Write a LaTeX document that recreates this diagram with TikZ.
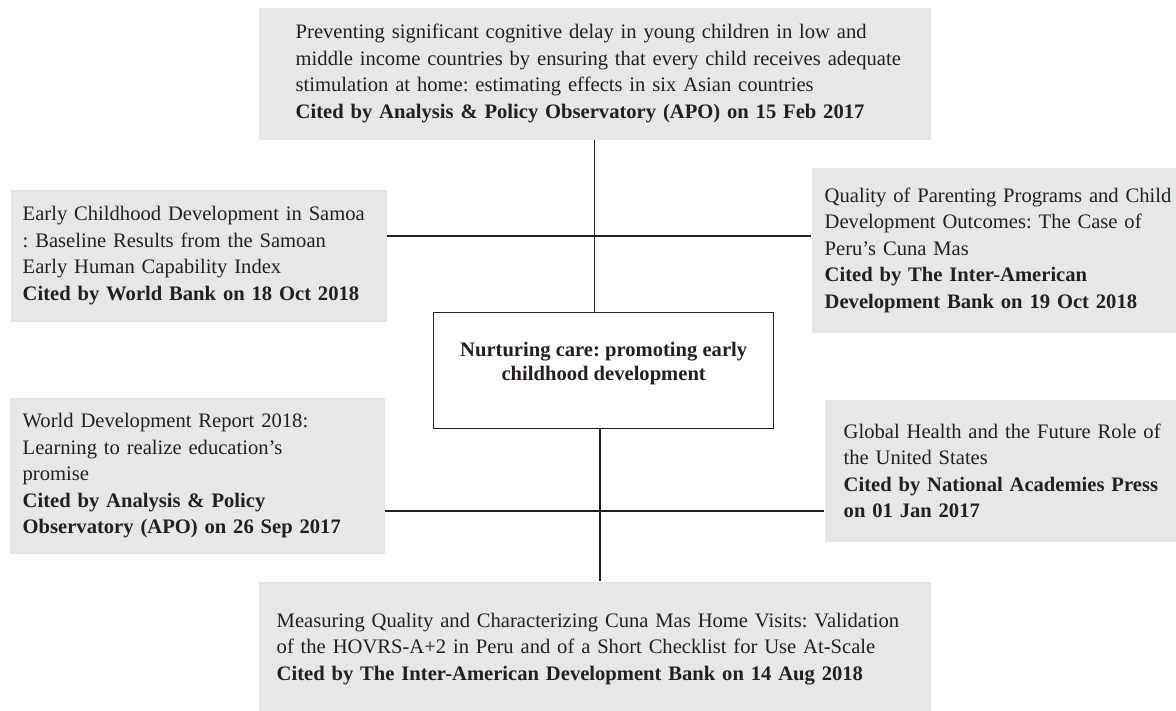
\documentclass[tikz,border=0pt]{standalone}
\usepackage{fontspec}
\setmainfont{Liberation Serif}
\usetikzlibrary{positioning}

\definecolor{boxgrey}{RGB}{230,231,233}
\definecolor{inkgrey}{RGB}{35,31,32}

\begin{document}
\frenchspacing
\begin{tikzpicture}[x=1pt,y=-1pt,line width=1.4pt,draw=inkgrey,text=inkgrey,
    every node/.append style={font=\fontsize{20.6}{26.5}\selectfont}]
\useasboundingbox (0,0) rectangle (1176,710);

\begin{scope}[every node/.append style={fill=boxgrey,anchor=north west,align=left,inner ysep=0pt}]
    \node[minimum width=672,minimum height=132,text width=598,inner xsep=37] (top) at (258,7)
        {Preventing significant cognitive delay in young children in low and\\
         \mbox{middle income countries by ensuring that every child receives adequate}\\
         stimulation at home: estimating effects in six Asian countries\\
         \textbf{Cited by Analysis \& Policy Observatory (APO) on 15 Feb 2017}};
    \node[minimum width=376,minimum height=132,text width=352,inner xsep=12] (lu) at (10,189)
        {Early Childhood Development in Samoa\\
         : Baseline Results from the Samoan\\
         Early Human Capability Index\\
         \textbf{Cited by World Bank on 18 Oct 2018}};
    \node[minimum width=378,minimum height=165,text width=352,inner xsep=13] (ru) at (811,167)
        {Quality of Parenting Programs and Child\\
         Development Outcomes: The Case of\\
         Peru’s Cuna Mas\\
         \textbf{Cited by The Inter-American}\\
         \textbf{Development Bank on 19 Oct 2018}};
    \node[minimum width=375,minimum height=156,text width=349,inner xsep=13] (ll) at (9,397)
        {World Development Report 2018:\\
         Learning to realize education’s\\
         promise\\
         \textbf{Cited by Analysis \& Policy}\\
         \textbf{Observatory (APO) on 26 Sep 2017}};
    \node[minimum width=361,minimum height=142,text width=323,inner xsep=19] (lr) at (824,399)
        {Global Health and the Future Role of\\
         the United States\\
         \textbf{Cited by National Academies Press}\\
         \textbf{on 01 Jan 2017}};
    \node[minimum width=672,minimum height=134,text width=636,inner xsep=18] (bot) at (258,581)
        {Measuring Quality and Characterizing Cuna Mas Home Visits: Validation\\
         of the HOVRS-A+2 in Peru and of a Short Checklist for Use At-Scale\\
         \textbf{Cited by The Inter-American Development Bank on 14 Aug 2018}};
\end{scope}

\node[draw,fill=white,anchor=north west,minimum width=340,minimum height=116,
      align=center,font=\fontsize{20.6}{24.5}\selectfont\bfseries] (hub) at (433,312)
    {Nurturing care: promoting early\\ childhood development\\[-6pt]};

\coordinate (j1) at (594,236);
\coordinate (j2) at (600,511);

\draw (top.south) -- (top.south |- hub.north);
\draw (lu.east |- j1) -- (ru.west |- j1);
\draw (j2 |- hub.south) -- (j2 |- bot.north);
\draw (ll.east |- j2) -- (lr.west |- j2);
\end{tikzpicture}
\end{document}
